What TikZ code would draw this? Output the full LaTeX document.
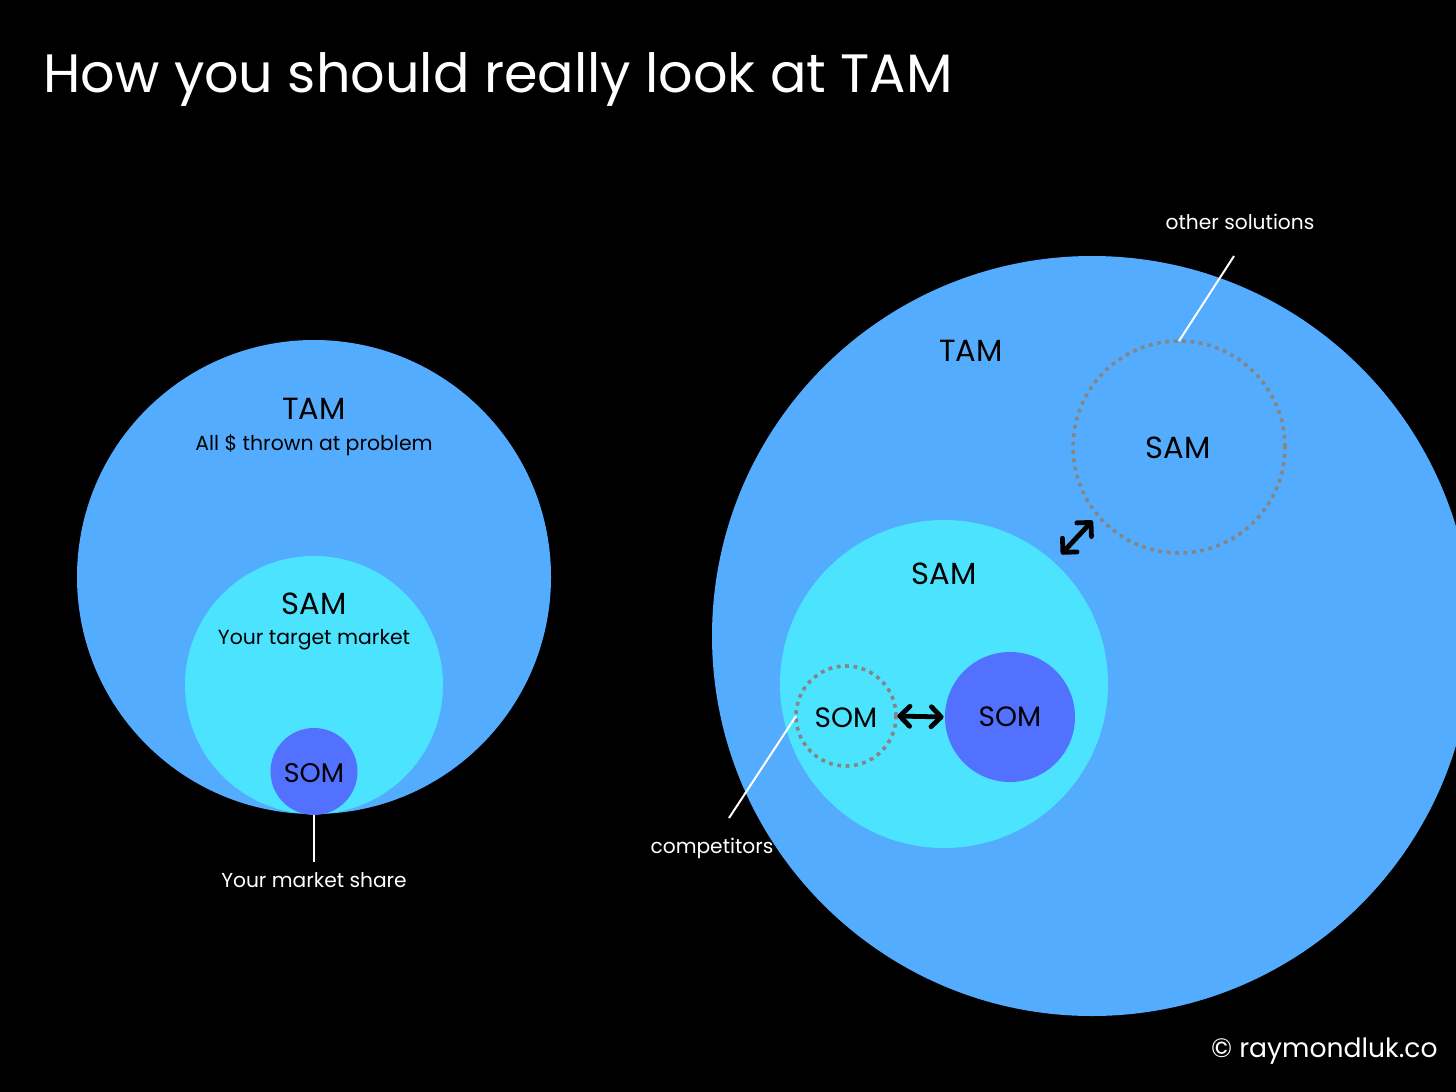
\documentclass[tikz,border=0pt]{standalone}
\usepackage{fontspec}
\setmainfont{Poppins}
\usetikzlibrary{arrows.meta}
\definecolor{tamblue}{HTML}{54ACFE}
\definecolor{samcyan}{HTML}{4CE3FE}
\definecolor{somblue}{HTML}{5271FF}
\definecolor{dotgrey}{HTML}{858585}
\tikzset{
  disc/.style={circle, inner sep=0pt, outer sep=0pt},
  dotring/.style={circle, inner sep=0pt, outer sep=0pt, draw=dotgrey, line width=1.8pt, dash pattern=on 1.9pt off 2.3pt},
  biglabel/.style={text=black, font=\fontsize{15.3}{17}\selectfont, inner sep=0pt},
  sublabel/.style={text=black, font=\fontsize{10.2}{12}\selectfont, inner sep=0pt},
  notelabel/.style={text=white, font=\fontsize{10.1}{12}\selectfont, inner sep=0pt},
  leader/.style={white, line width=1pt},
  dblarrow/.style={black, line width=2.4pt, {Straight Barb[length=5pt, width=10pt, line cap=round, line join=round]}-{Straight Barb[length=5pt, width=10pt, line cap=round, line join=round]}}
}
\begin{document}
\begin{tikzpicture}[x=0.5pt, y=-0.5pt]
\useasboundingbox (0,0) rectangle (1456,1092);
\fill[black] (0,0) rectangle (1456,1092);
\clip (0,0) rectangle (1456,1092);

% title
\node[anchor=base west, text=white, font=\fontsize{27}{32}\selectfont, inner sep=0pt] (title) at (43,92) {How you should really look at TAM};

% left diagram
\node[disc, fill=tamblue, minimum size=237pt] (tamL) at (314,577) {};
\node[disc, fill=samcyan, minimum size=129pt] (samL) at (314,685) {};
\node[disc, fill=somblue, minimum size=43.5pt] (somL) at (314,771.5) {};
\node[biglabel] (tamLt) at (314,409) {TAM};
\node[sublabel] (tamLs) at (314,445) {All \$ thrown at problem};
\node[biglabel] (samLt) at (314,604) {SAM};
\node[sublabel] (samLs) at (314,640) {Your target market};
\node[biglabel, font=\fontsize{13.5}{15}\selectfont] (somLt) at (314,773) {SOM};
\node[notelabel] (share) at (314,880) {Your market share};
\draw[leader] (somL.south) -- ([yshift=5pt]share.north);

% right diagram
\node[disc, fill=tamblue, minimum size=380pt] (tamR) at (1092,636) {};
\node[disc, fill=samcyan, minimum size=164pt] (samR) at (944,684) {};
\node[disc, fill=somblue, minimum size=65pt] (somF) at (1010,717) {};
\node[dotring, minimum size=50pt] (somD) at (846,716) {};
\node[dotring, minimum size=106pt] (samD) at (1179,447) {};
\node[biglabel] (tamRt) at (971,351) {TAM};
\node[biglabel] (samRt) at (944,574) {SAM};
\node[biglabel] (samDt) at (1178,448) {SAM};
\node[biglabel, font=\fontsize{14}{15}\selectfont] (somDt) at (846,718) {SOM};
\node[biglabel, font=\fontsize{14}{15}\selectfont] (somFt) at (1010,717) {SOM};

\draw[dblarrow, shorten <=0.7pt, shorten >=0.7pt] (somD.east) -- (somF.west);
\draw[dblarrow, shorten <=5.5pt, shorten >=3.8pt] (samR.48) -- (samD.220);

\node[notelabel] (other) at (1240,222) {other solutions};
\coordinate (otherend) at (1234,256);
\draw[leader] (samD.north) -- (otherend);

\node[notelabel] (comp) at (712,848) {competitors};
\coordinate (compend) at (729,818);
\draw[leader] (somD.west) -- (compend);

\node[anchor=east, text=white, font=\fontsize{13.3}{15}\selectfont, inner sep=0pt] (copy) at (1438,1051) {© raymondluk.co};
\end{tikzpicture}
\end{document}
